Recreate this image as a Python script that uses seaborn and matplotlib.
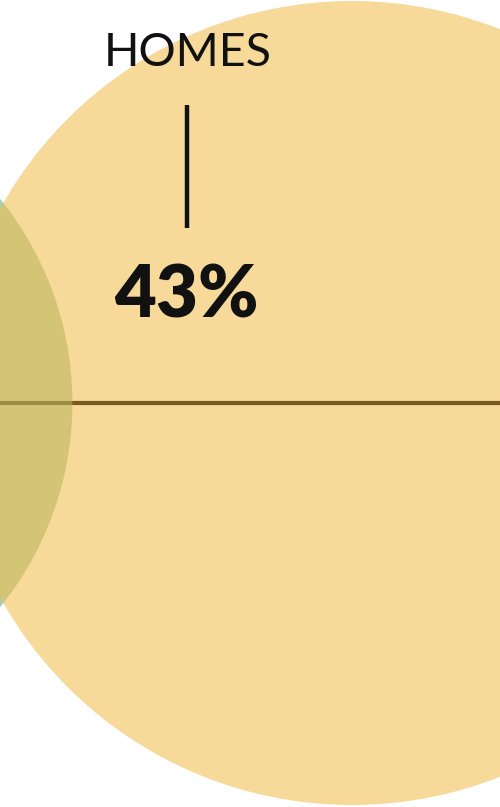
import numpy as np
import pandas as pd
import seaborn as sns
import matplotlib
matplotlib.use("Agg")
import matplotlib.pyplot as plt
from matplotlib.patches import Circle

# ---- data ----
categories = ["OTHER", "HOMES"]
shares = [28, 43]            # percent
labels = ["", "HOMES"]
value_labels = ["", "43%"]

# ---- style ----
sns.set_theme(style="white")
plt.rcParams['font.family'] = ['Lato', 'DejaVu Sans']

W, H = 500, 807
fig = plt.figure(figsize=(W / 100, H / 100), dpi=100)
ax = fig.add_axes([0, 0, 1, 1])
ax.set_xlim(0, W)
ax.set_ylim(H, 0)
ax.set_aspect("equal")
ax.axis("off")

k = 402 / np.sqrt(43)           # radius scale: r = k * sqrt(share)
radii = [k * np.sqrt(s) for s in shares]
centers = [(-252, 403), (352, 403)]
colors = ["#A6D0B3", "#F7D999"]

teal = Circle(centers[0], radii[0], facecolor=colors[0], edgecolor="none", zorder=1)
yellow = Circle(centers[1], radii[1], facecolor=colors[1], edgecolor="none", zorder=2)
ax.add_patch(teal)
ax.add_patch(yellow)

# horizontal baseline
line_df = pd.DataFrame({"x": [0, W], "y": [403, 403]})
sns.lineplot(data=line_df, x="x", y="y", ax=ax, color="#7B5A22", linewidth=3.0,
             zorder=3, legend=False)

# overlap region
overlap = Circle(centers[0], radii[0], facecolor="#B8B45C", alpha=0.57,
                 edgecolor="none", zorder=4)
ax.add_patch(overlap)
clip = Circle(centers[1], radii[1], transform=ax.transData)
overlap.set_clip_path(clip)

# labels
ax.text(188, 53, labels[1], ha="center", va="center", fontsize=33.5,
        fontweight="normal", color="#111111", zorder=6)
ax.plot([187, 187], [105, 228], color="#111111", linewidth=3.2, zorder=6,
        solid_capstyle="butt")
ax.text(186, 296, value_labels[1], ha="center", va="center", fontsize=52,
        fontweight="heavy", color="#111111", zorder=6)

fig.savefig("out.png", dpi=100)
